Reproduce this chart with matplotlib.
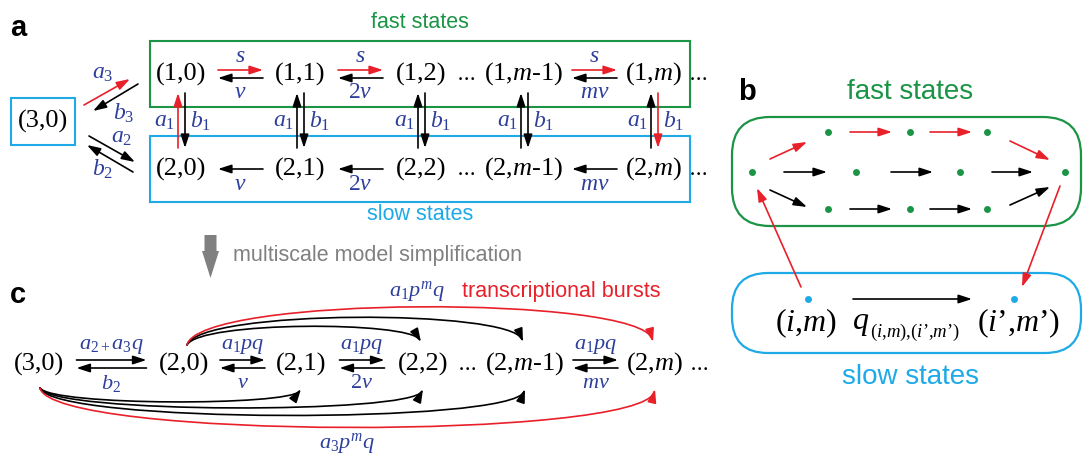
import matplotlib.pyplot as plt
from matplotlib.patches import FancyArrowPatch, Rectangle, FancyBboxPatch, FancyArrow
from matplotlib.path import Path

plt.rcParams['mathtext.fontset'] = 'custom'
plt.rcParams['mathtext.rm'] = 'Liberation Serif'
plt.rcParams['mathtext.it'] = 'Liberation Serif:italic'
plt.rcParams['mathtext.bf'] = 'Liberation Serif:bold'

# ---- data ----
# panel a
fast_nodes = ['(1,0)', '(1,1)', '(1,2)', '(1,$m$-1)', '(1,$m$)']
slow_nodes = ['(2,0)', '(2,1)', '(2,2)', '(2,$m$-1)', '(2,$m$)']
col_x = [181, 300, 421, 524, 654]
pairs_a = [(0, 1), (1, 2), (3, 4)]
fwd_a = ['$s$', '$s$', '$s$']
bwd_a = ['$v$', '$2v$', '$mv$']
up_rate = '$a_1$'
down_rate = '$b_1$'
# panel c
c_nodes = ['(3,0)', '(2,0)', '(2,1)', '(2,2)', '(2,$m$-1)', '(2,$m$)']
c_x = [39, 184, 301, 423, 525, 655]
pairs_c = [(0, 1), (1, 2), (2, 3), (4, 5)]
fwd_c = ['$a_{2+}a_3q$', '$a_1pq$', '$a_1pq$', '$a_1pq$']
bwd_c = ['$b_2$', '$v$', '$2v$', '$mv$']
top_targets = [3, 4, 5]     # bursts out of (2,0)
bottom_targets = [2, 3, 4, 5]  # bursts out of (3,0)

RED = '#e8202a'
GREEN = '#1b9446'
CYAN = '#1eaae6'
BLUE = '#2e3f9b'
GRAY = '#808080'
SERIF = 'Liberation Serif'
SANS = 'Liberation Sans'

W, H = 1083, 455
fig = plt.figure(figsize=(10.83, 4.55), dpi=100)
ax = fig.add_axes([0, 0, 1, 1])
ax.set_xlim(0, W)
ax.set_ylim(H, 0)
ax.axis('off')
r = fig.canvas.get_renderer()
HEAD = '-|>,head_length=8,head_width=2.6'


def arr(p0, p1, c='k', lw=1.2):
    a = FancyArrowPatch(p0, p1, arrowstyle=HEAD, mutation_scale=1, color=c, lw=lw,
                        shrinkA=0, shrinkB=0)
    ax.add_patch(a)


def curve(p0, p3, cy, c='k'):
    x0, y0 = p0
    x3, y3 = p3
    verts = [p0, (x0 + 12, cy), (x3 - 12, cy), p3]
    path = Path(verts, [Path.MOVETO, Path.CURVE4, Path.CURVE4, Path.CURVE4])
    a = FancyArrowPatch(path=path, arrowstyle=HEAD, mutation_scale=1, color=c, lw=1.2)
    ax.add_patch(a)


def node(x, y, s, fs=19):
    t = ax.text(x, y, s, ha='center', va='center', fontsize=fs, family=SERIF)
    bb = t.get_window_extent(r).transformed(ax.transData.inverted())
    return min(bb.x0, bb.x1), max(bb.x0, bb.x1)


def dots(x, y):
    ax.text(x, y + 2, '$\\cdots$', ha='center', va='center', fontsize=15)


def rate(x, y, s, fs=17):
    ax.text(x, y, s, ha='center', va='center', fontsize=fs, color=BLUE, family=SERIF)


def pair(xl, xr, y, top, bot, length=45, both=True, red_top=False, fs=17):
    m = (xl + xr) / 2
    if both:
        arr((m - length / 2, y - 4), (m + length / 2, y - 4), RED if red_top else 'k')
        arr((m + length / 2, y + 4), (m - length / 2, y + 4))
        rate(m, y - 17, top, fs)
        rate(m, y + 19, bot, fs)
    else:
        arr((m + length / 2, y), (m - length / 2, y))
        rate(m, y + 15, bot, fs)


# ---- panel a ----
ax.text(18, 28, 'a', fontsize=21, weight='bold', family=SANS, ha='center', va='center')
ax.add_patch(Rectangle((150, 41), 540, 66, fill=False, ec=GREEN, lw=1.5))
ax.add_patch(Rectangle((150, 136), 540, 66, fill=False, ec=CYAN, lw=1.5))
ax.add_patch(Rectangle((11, 98), 64, 47, fill=False, ec=CYAN, lw=1.5))
ax.text(420, 22, 'fast states', color=GREEN, fontsize=15.5, family=SANS, ha='center', va='center')
ax.text(420, 215, 'slow states', color=CYAN, fontsize=15.5, family=SANS, ha='center', va='center')
node(43, 121, '(3,0)')

y1, y2 = 74, 169
ext1 = [node(x, y1, s) for x, s in zip(col_x, fast_nodes)]
ext2 = [node(x, y2, s) for x, s in zip(col_x, slow_nodes)]
for (i, j), f, b in zip(pairs_a, fwd_a, bwd_a):
    pair(ext1[i][1], ext1[j][0], y1, f, b, red_top=True)
    pair(ext2[i][1], ext2[j][0], y2, f, b, both=False)
dots((ext1[2][1] + ext1[3][0]) / 2, y1)
dots((ext2[2][1] + ext2[3][0]) / 2, y2)
dots(ext1[-1][1] + 15, y1)
dots(ext2[-1][1] + 15, y2)

for k, x in enumerate(col_x):
    arr((x - 3, 148), (x - 3, 93), RED if k == 0 else 'k')
    arr((x + 4, 93), (x + 4, 148), RED if k == len(col_x) - 1 else 'k')
    rate(x - 16, 121, up_rate)
    rate(x + 20, 121, down_rate)

arr((84, 105), (130, 79), RED)
arr((138, 84), (93, 111))
arr((89, 136), (135, 162))
arr((133, 172), (87, 145))
rate(103, 74, '$a_3$')
rate(124, 113, '$b_3$')
rate(122, 138, '$a_2$')
rate(103, 169, '$b_2$')

# ---- arrow between panels ----
ax.add_patch(FancyArrow(210.5, 235, 0, 43, width=12, head_width=17, head_length=27,
                        length_includes_head=True, color=GRAY, lw=0))
ax.text(233, 255, 'multiscale model simplification', color=GRAY, fontsize=15.5,
        family=SANS, ha='left', va='center')

# ---- panel c ----
ax.text(18, 295, 'c', fontsize=21, weight='bold', family=SANS, ha='center', va='center')
yc = 364
extc = [node(x, yc, s) for x, s in zip(c_x, c_nodes)]
for n, ((i, j), f, b) in enumerate(zip(pairs_c, fwd_c, bwd_c)):
    pair(extc[i][1], extc[j][0], yc, f, b, length=70 if n == 0 else 45, fs=16)
dots((extc[3][1] + extc[4][0]) / 2, yc)
dots(extc[-1][1] + 15, yc)

top_cy = [321, 309, 295]
for t, cy in zip(top_targets, top_cy):
    curve((187, 345), (c_x[t] - 2, 342), cy, RED if t == 5 else 'k')
bot_cy = [406, 414, 424, 440]
for t, cy in zip(bottom_targets, bot_cy):
    curve((40, 388), (c_x[t], 389), cy, RED if t == 5 else 'k')
rate(417, 291, '$a_1p^mq$', 16)
ax.text(462, 292, 'transcriptional bursts', color=RED, fontsize=15.5, family=SANS,
        ha='left', va='center')
rate(347, 444, '$a_3p^mq$', 16)

# ---- panel b ----
ax.text(747, 92, 'b', fontsize=21, weight='bold', family=SANS, ha='center', va='center')
ax.text(910, 92, 'fast states', color=GREEN, fontsize=20, family=SANS, ha='center', va='center')
ax.text(910, 377, 'slow states', color=CYAN, fontsize=20, family=SANS, ha='center', va='center')
ax.add_patch(FancyBboxPatch((732, 117), 349, 109, boxstyle='round,pad=0,rounding_size=38',
                            fill=False, ec=GREEN, lw=1.6))
ax.add_patch(FancyBboxPatch((732, 273), 349, 80, boxstyle='round,pad=0,rounding_size=36',
                            fill=False, ec=CYAN, lw=1.6))
mid_x = [752, 856, 960, 1065]
side_x = [828, 910, 987]
ax.plot(mid_x, [172] * 4, 'o', color=GREEN, ms=5, mec='none')
ax.plot(side_x, [132] * 3, 'o', color=GREEN, ms=5, mec='none')
ax.plot(side_x, [209] * 3, 'o', color=GREEN, ms=5, mec='none')
arr((770, 159), (807, 142), RED)
arr((850, 132), (892, 132), RED)
arr((930, 132), (972, 132), RED)
arr((1010, 141), (1050, 160), RED)
arr((784, 172), (827, 172))
arr((891, 172), (933, 172))
arr((992, 172), (1033, 172))
arr((770, 190), (807, 207))
arr((850, 209), (892, 209))
arr((930, 209), (972, 209))
arr((1010, 205), (1050, 187))
arr((801, 287), (757, 188), RED)
arr((1060, 186), (1022, 287), RED)
ax.plot([808, 1014], [299, 299], 'o', color=CYAN, ms=5, mec='none')
arr((853, 299), (972, 299))
node(806, 323, '($i$,$m$)', 23)
node(1019, 323, '($i$’,$m$’)', 23)
ax.text(852, 323, '$q$', fontsize=23, family=SERIF, ha='left', va='center')
ax.text(870, 332, '($i$,$m$),($i$’,$m$’)', fontsize=13.5, family=SERIF, ha='left', va='center')

fig.savefig('out.png', dpi=100)
